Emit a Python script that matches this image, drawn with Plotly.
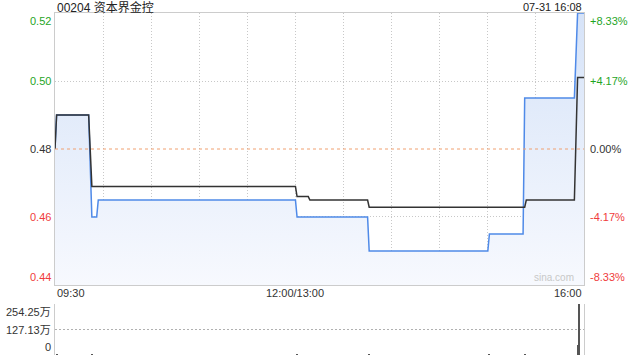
import plotly.graph_objects as go

# ---------------- data ----------------
stock_title = "00204 资本界金控"
stamp = "07-31 16:08"
prev_close = 0.48

price_times = ["09:30", "09:31", "09:51", "09:53", "09:56", "09:57", "13:00", "13:01",
               "13:45", "13:46", "15:00", "15:01", "15:22", "15:23", "15:54", "15:56", "16:00"]
price_values = [0.480, 0.490, 0.490, 0.460, 0.460, 0.465, 0.465, 0.460,
                0.460, 0.450, 0.450, 0.455, 0.455, 0.495, 0.495, 0.520, 0.520]

avg_times = ["09:30", "09:31", "09:51", "09:53", "13:00", "13:01", "13:08", "13:09",
             "13:45", "13:46", "15:23", "15:24", "15:54", "15:56", "16:00"]
avg_values = [0.480, 0.490, 0.490, 0.469, 0.469, 0.466, 0.466, 0.465,
              0.465, 0.4629, 0.4629, 0.465, 0.465, 0.501, 0.501]

vol_times = ["09:31", "09:53", "13:01", "13:46", "15:01", "15:23", "15:56", "15:57"]
vol_values = [1.0, 4.0, 1.0, 1.0, 1.0, 1.5, 52.0, 254.25]  # 万股

price_ticks = [0.52, 0.50, 0.48, 0.46, 0.44]
price_tick_text = ["0.52", "0.50", "0.48", "0.46", "0.44"]
pct_tick_text = ["+8.33%", "+4.17%", "0.00%", "-4.17%", "-8.33%"]
vol_ticks = [254.25, 127.13, 0]
vol_tick_text = ["254.25万", "127.13万", "0"]
time_ticks = ["09:30", "12:00/13:00", "16:00"]


def tmin(s):
    """map clock time to trading minutes since 09:30 (lunch break removed)"""
    s = s.split("/")[0]
    h, m = map(int, s.split(":"))
    t = h * 60 + m
    return t - 570 if t <= 720 else t - 780 + 150


px = [tmin(t) for t in price_times]
ax_ = [tmin(t) for t in avg_times]
vx = [tmin(t) for t in vol_times]

FONT = "Liberation Sans, Arial, Noto Sans CJK SC, sans-serif"
GREEN = "#1fa51f"
RED = "#f03c3c"
DARK = "#333333"
GRID = "#c8c8c8"

fig = go.Figure()

fig.add_trace(go.Scatter(
    x=px, y=price_values, mode="lines", xaxis="x", yaxis="y",
    line=dict(color="#4f8ae8", width=1.5),
    fill="tozeroy",
    fillgradient=dict(type="vertical", start=0.44, stop=0.52,
                      colorscale=[[0, "#f7f9fe"], [1, "#d6e3f8"]]),
    hoverinfo="skip", showlegend=False))

fig.add_trace(go.Scatter(
    x=ax_, y=avg_values, mode="lines", xaxis="x", yaxis="y",
    line=dict(color="#333333", width=1.5),
    hoverinfo="skip", showlegend=False))

fig.add_trace(go.Bar(
    x=vx, y=vol_values, xaxis="x2", yaxis="y2", width=0.6,
    marker=dict(color="#555555", line=dict(width=0)),
    hoverinfo="skip", showlegend=False))

grid_vals = list(range(0, 331, 30))

fig.update_layout(
    width=640, height=360,
    margin=dict(l=55, r=56, t=13, b=5),
    paper_bgcolor="white", plot_bgcolor="white",
    font=dict(family=FONT, size=11, color=DARK),
    bargap=0,
    xaxis=dict(domain=[0, 1], range=[0, 330], tickvals=grid_vals, showticklabels=False,
               showgrid=True, gridcolor=GRID, griddash="1px,2px", gridwidth=1,
               showline=True, mirror=True, linecolor="#cccccc", linewidth=1,
               zeroline=False, ticks="", anchor="y"),
    yaxis=dict(domain=[0.2047, 1], range=[0.44, 0.52], tickvals=[0.46, 0.50],
               showticklabels=False, showgrid=True, gridcolor=GRID, griddash="1px,2px",
               showline=True, mirror=True, linecolor="#cccccc", linewidth=1,
               zeroline=False, ticks="", anchor="x"),
    xaxis2=dict(domain=[0, 1], range=[0, 330], showticklabels=False, showgrid=False,
                showline=False, zeroline=False, ticks="", anchor="y2"),
    yaxis2=dict(domain=[0, 0.1491], range=[-0.5, 254.75], tickmode="array", tickvals=vol_ticks,
                showticklabels=False, showgrid=True, gridcolor="#b0b0b0", griddash="2px,2px",
                gridwidth=1, showline=True, mirror=True, linecolor="#cccccc", linewidth=1,
                zeroline=False, ticks="", anchor="x2"),
)

# previous close dashed line
fig.add_shape(type="line", xref="x domain", x0=0, x1=1, yref="y", y0=prev_close, y1=prev_close,
              line=dict(color="#f0a070", width=1, dash="3px,3px"))

ann = []
# title & stamp
ann.append(dict(text=stock_title, xref="x domain", x=0, xanchor="left", yref="y domain", y=1,
                yanchor="middle", yshift=6, showarrow=False, font=dict(size=12, color="#222222")))
ann.append(dict(text=stamp, xref="x domain", x=1, xanchor="right", yref="y domain", y=1,
                yanchor="middle", yshift=6, showarrow=False, font=dict(size=11, color="#222222")))

# price labels (left) and percent labels (right)
for i, (v, lt, rt) in enumerate(zip(price_ticks, price_tick_text, pct_tick_text)):
    col = GREEN if v > prev_close else (RED if v < prev_close else DARK)
    ya = "top" if i == 0 else ("bottom" if i == len(price_ticks) - 1 else "middle")
    ann.append(dict(text=lt, xref="x domain", x=0, xanchor="right", xshift=-2, yref="y", y=v,
                    yanchor=ya, showarrow=False, font=dict(size=11, color=col)))
    ann.append(dict(text=rt, xref="x domain", x=1, xanchor="left", xshift=4, yref="y", y=v,
                    yanchor=ya, showarrow=False, font=dict(size=11, color=col)))

# time labels
anchors = ["left", "center", "right"]
for t, a in zip(time_ticks, anchors):
    ann.append(dict(text=t, xref="x", x=tmin(t), xanchor=a, yref="y domain", y=0,
                    yanchor="top", yshift=0, showarrow=False, font=dict(size=11, color=DARK)))

# volume labels
for i, (v, t) in enumerate(zip(vol_ticks, vol_tick_text)):
    ya = "top" if i == 0 else ("bottom" if i == len(vol_ticks) - 1 else "middle")
    ann.append(dict(text=t, xref="x2 domain", x=0, xanchor="right", xshift=-2, yref="y2", y=v,
                    yanchor=ya, showarrow=False, font=dict(size=11, color=DARK)))

# watermark
ann.append(dict(text="sina.com", xref="x domain", x=0.985, xanchor="right", yref="y domain", y=0,
                yanchor="bottom", yshift=0, showarrow=False, font=dict(size=10, color="#c8c8c8")))

fig.update_layout(annotations=ann)

fig.write_html("out.html")
